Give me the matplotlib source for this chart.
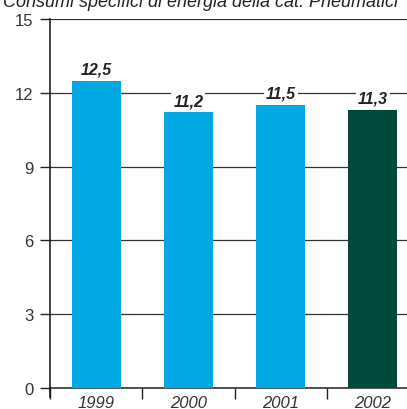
import numpy as np
import matplotlib.pyplot as plt

plt.rcParams['font.family'] = ['Liberation Sans', 'DejaVu Sans']

years = ["1999", "2000", "2001", "2002"]
values = [12.5, 11.2, 11.5, 11.3]
labels = ["12,5", "11,2", "11,5", "11,3"]
colors = ["#00A8E4", "#00A8E4", "#00A8E4", "#004A3B"]
yticks = [0, 3, 6, 9, 12, 15]

fig = plt.figure(figsize=(4.07, 4.10), dpi=100)
# axes runs past the right edge of the figure, as in the original
ax = fig.add_axes([50 / 407, 21 / 410, 369 / 407, 369 / 410])

x = np.arange(len(years))
ax.bar(x, values, width=0.53, color=colors, zorder=3)

for xi, v, lab in zip(x, values, labels):
    ax.annotate(lab, (xi, v), xytext=(0, 3), textcoords="offset points",
                ha="center", va="bottom", fontsize=11.5, fontweight="bold",
                fontstyle="italic", color="#222222", zorder=4,
                bbox=dict(facecolor="white", edgecolor="none", pad=1.5))

ax.set_xlim(-0.5, 3.5)
ax.set_ylim(0, 15)
ax.set_yticks(yticks)
ax.set_yticklabels([str(t) for t in yticks], fontsize=12, color="#333333")
ax.yaxis.grid(True, color="#333333", linewidth=0.9, zorder=0)
ax.set_axisbelow(True)
ax.axhline(0, color="#222222", linewidth=1.1, clip_on=False, zorder=2)

# year labels between boundary ticks
ax.set_xticks(x)
ax.set_xticklabels(years, fontsize=12, fontstyle="italic", color="#333333")
ax.tick_params(axis="x", length=0, pad=5)
ax.set_xticks(np.arange(-0.5, 4, 1), minor=True)
ax.tick_params(axis="x", which="minor", length=8, width=1, color="#222222", direction="out")
ax.tick_params(axis="y", length=7, width=1, color="#222222", pad=5)

for s in ["top", "right", "bottom"]:
    ax.spines[s].set_visible(False)
ax.spines["left"].set_color("#111111")
ax.spines["left"].set_linewidth(1.1)
ax.spines["left"].set_bounds(-0.35, 15)

fig.text(3 / 407, 1 - 7 / 410, "Consumi specifici di energia della cat. Pneumatici",
         fontsize=13, fontstyle="italic", color="#222222", va="baseline", ha="left")

fig.savefig("out.png", dpi=100)
